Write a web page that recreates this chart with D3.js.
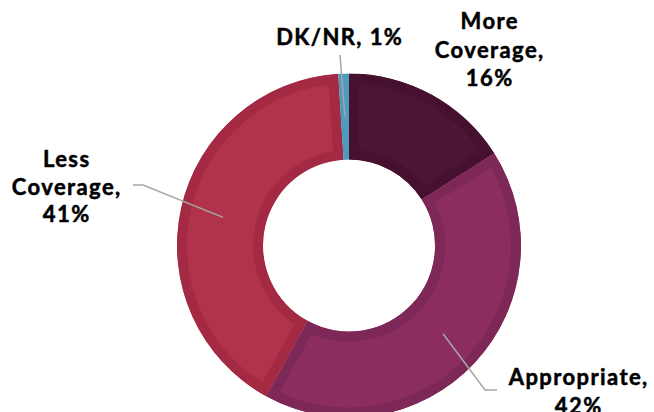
<!DOCTYPE html>
<html><head><meta charset="utf-8">
<script src="https://cdn.jsdelivr.net/npm/d3@7"></script>
<style>html,body{margin:0;padding:0;background:#fff;}svg{display:block;}</style>
</head><body><svg id="c" width="654" height="412"></svg>
<script>
const categories = ["More Coverage", "Appropriate", "Less Coverage", "DK/NR"];
const values = [16, 42, 41, 1];
const fills = ["#4c1534", "#8c2d60", "#b0324b", "#5ba7c8"];
const borders = ["#45112f", "#7e2858", "#a42a44", "#4e9bbd"];

// label layout (separate from data)
const labelLayout = [
  {lines:["More","Coverage,","16%"], x:489, y:29, lh:28.5, leader:null},
  {lines:["Appropriate,","42%"], x:578, y:385, lh:29, leader:[[485,390],[497,390]]},
  {lines:["Less","Coverage,","41%"], x:66, y:167, lh:27.5, leader:[[143,185],[133,185]]},
  {lines:["DK/NR, 1%"], x:339, y:45, lh:28, leader:[[340,55]]}
];

const W=654,H=412, cx=349, cy=245.5, rOuter=172, rInner=86, bw=10;
const svg=d3.select("#c");
const g=svg.append("g").attr("transform",`translate(${cx},${cy})`);
const pie=d3.pie().sort(null).value(d=>d)(values);
const arc=d3.arc().innerRadius(rInner).outerRadius(rOuter);
const defs=svg.append("defs");
pie.forEach((p,i)=>{
  defs.append("clipPath").attr("id","clip"+i).append("path").attr("d",arc(p));
  g.append("path").attr("d",arc(p)).attr("fill",fills[i])
   .attr("stroke",borders[i]).attr("stroke-width",bw*2)
   .attr("clip-path",`url(#clip${i})`);
});
// leaders
const midArc=d3.arc().innerRadius((rInner+rOuter)/2).outerRadius((rInner+rOuter)/2);
pie.forEach((p,i)=>{
  const L=labelLayout[i];
  if(!L.leader) return;
  const c=midArc.centroid(p);
  const pts=[[c[0]+cx,c[1]+cy]].concat(L.leader);
  svg.append("path").attr("d",d3.line()(pts)).attr("fill","none")
    .attr("stroke","#a6a6a6").attr("stroke-width",1.5);
});
labelLayout.forEach((L,i)=>{
  const t=svg.append("text").attr("text-anchor","middle")
    .attr("font-family","Lato, 'DejaVu Sans', sans-serif").attr("font-weight",700)
    .attr("font-size",22).attr("letter-spacing","1.4px").attr("fill","#000")
    .attr("stroke","#000").attr("stroke-width",0.5);
  L.lines.forEach((s,k)=>t.append("tspan").attr("x",L.x+0.7).attr("y",L.y+k*L.lh).text(s));
});
</script></body></html>
